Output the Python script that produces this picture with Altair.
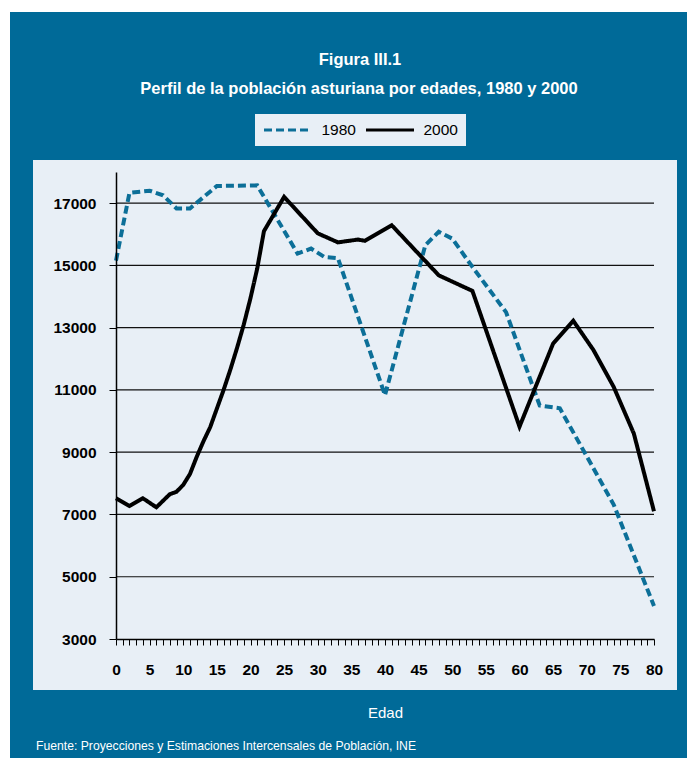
import altair as alt
import pandas as pd

# ---- data ----
AGES_1980 = [0, 2, 5, 7, 9, 11, 15, 21, 27, 29, 31, 33, 40, 46, 48, 50, 53, 58, 63, 66, 74, 80]
POP_1980 = [15150, 17330, 17400, 17250, 16830, 16830, 17550, 17570, 15380, 15540, 15270, 15230,
            10830, 15650, 16080, 15860, 14950, 13500, 10500, 10410, 7320, 4060]

AGES_2000 = [0, 2, 4, 6, 8, 9, 10, 11, 12, 13, 14, 15, 16, 17, 18, 19, 20, 21, 22, 25, 30, 33,
             36, 37, 41, 48, 53, 60, 62, 65, 68, 71, 74, 77, 80]
POP_2000 = [7520, 7270, 7520, 7230, 7650, 7730, 7950, 8300, 8850, 9350, 9800, 10400, 11000,
            11650, 12350, 13100, 13950, 14900, 16100, 17200, 16030, 15740, 15830, 15790, 16290,
            14680, 14180, 9820, 10890, 12490, 13220, 12280, 11100, 9600, 7100]

SERIES = ["1980", "2000"]
Y_TICKS = [3000, 5000, 7000, 9000, 11000, 13000, 15000, 17000]
GRID_LINES = [5000, 7000, 9000, 11000, 13000, 15000, 17000]
X_TICKS = list(range(0, 81))
TITLE_1 = "Figura III.1"
TITLE_2 = "Perfil de la población asturiana por edades, 1980 y 2000"
X_TITLE = "Edad"
SOURCE = "Fuente: Proyecciones y Estimaciones Intercensales de Población, INE"

BLUE = "#006a98"
PANEL = "#e8eff6"
LINE_BLUE = "#0c6f98"
FONT = "Liberation Sans, Arial, sans-serif"

W, H = 538, 467

df = pd.concat([
    pd.DataFrame({"edad": AGES_1980, "pob": POP_1980, "serie": SERIES[0]}),
    pd.DataFrame({"edad": AGES_2000, "pob": POP_2000, "serie": SERIES[1]}),
])
grid_df = pd.DataFrame({"pob": GRID_LINES})

y_scale = alt.Scale(domain=[3000, 18000], nice=False, zero=False)
y_axis = alt.Axis(values=Y_TICKS, grid=False, title=None, format="d", domainColor="black",
                  domainWidth=1.5, tickColor="black", tickSize=7, tickWidth=1, labelFont=FONT,
                  labelFontSize=15.5, labelFontWeight="bold", labelColor="black", labelPadding=13,
                  zindex=1)
x_axis = alt.Axis(values=X_TICKS, grid=False, title=X_TITLE, format="d",
                  labelExpr="datum.value % 5 === 0 ? datum.label : ''",
                  domainColor="black", domainWidth=1.5, tickColor="black", tickSize=6, tickWidth=1,
                  labelFont=FONT, labelFontSize=15.5, labelFontWeight="bold", labelColor="black",
                  labelPadding=17, labelAngle=0, labelFlush=False, labelOverlap=False,
                  titleFont=FONT, titleFontSize=15, titleFontWeight="normal", titleColor="white",
                  titlePadding=28, zindex=1)

legend = alt.Legend(title=None, orient="none", legendX=139, legendY=-58, direction="horizontal",
                    fillColor=PANEL, padding=7.5, symbolType="stroke", symbolSize=2304,
                    symbolStrokeWidth=3, clipHeight=17, labelFont=FONT, labelFontSize=15.5,
                    labelColor="black", labelOffset=8, columnPadding=8)

one = alt.Data(values=[{}])

blue_bg = alt.Chart(one).mark_rect(color=BLUE).encode(
    x=alt.value(-106), x2=alt.value(571), y=alt.value(-160), y2=alt.value(586))
panel_bg = alt.Chart(one).mark_rect(color=PANEL).encode(
    x=alt.value(-83), x2=alt.value(561), y=alt.value(-12), y2=alt.value(518))

grid = alt.Chart(grid_df).mark_rule(color="#111111", strokeWidth=1.2).encode(
    y=alt.Y("pob:Q", scale=y_scale, axis=y_axis),
    x=alt.value(0), x2=alt.value(W))

lines = alt.Chart(df).mark_line(strokeWidth=4).encode(
    x=alt.X("edad:Q", scale=alt.Scale(domain=[0, 80], nice=False), axis=x_axis),
    y=alt.Y("pob:Q", scale=y_scale, axis=y_axis),
    color=alt.Color("serie:N", scale=alt.Scale(domain=SERIES, range=[LINE_BLUE, "black"]),
                    legend=legend),
    strokeDash=alt.StrokeDash("serie:N", scale=alt.Scale(domain=SERIES, range=[[8, 4], [1, 0]]),
                              legend=legend),
)

t1 = alt.Chart(one).mark_text(text=TITLE_1, font=FONT, fontSize=16.5, fontWeight="bold",
                              color="white", align="center", baseline="alphabetic").encode(
    x=alt.value(244), y=alt.value(-107))
t2 = alt.Chart(one).mark_text(text=TITLE_2, font=FONT, fontSize=16.5, fontWeight="bold",
                              color="white", align="center", baseline="alphabetic").encode(
    x=alt.value(243), y=alt.value(-78))
src = alt.Chart(one).mark_text(text=SOURCE, font=FONT, fontSize=12.2, color="white",
                               align="left", baseline="alphabetic").encode(
    x=alt.value(-80), y=alt.value(578))

chart = alt.layer(blue_bg, panel_bg, grid, lines, t1, t2, src).properties(
    width=W, height=H, autosize="none",
    padding={"left": 108, "top": 164, "right": 33, "bottom": 119},
).configure_view(strokeWidth=0).configure(background="white")

chart.save("out.html", embed_options={"renderer": "svg", "actions": False})
